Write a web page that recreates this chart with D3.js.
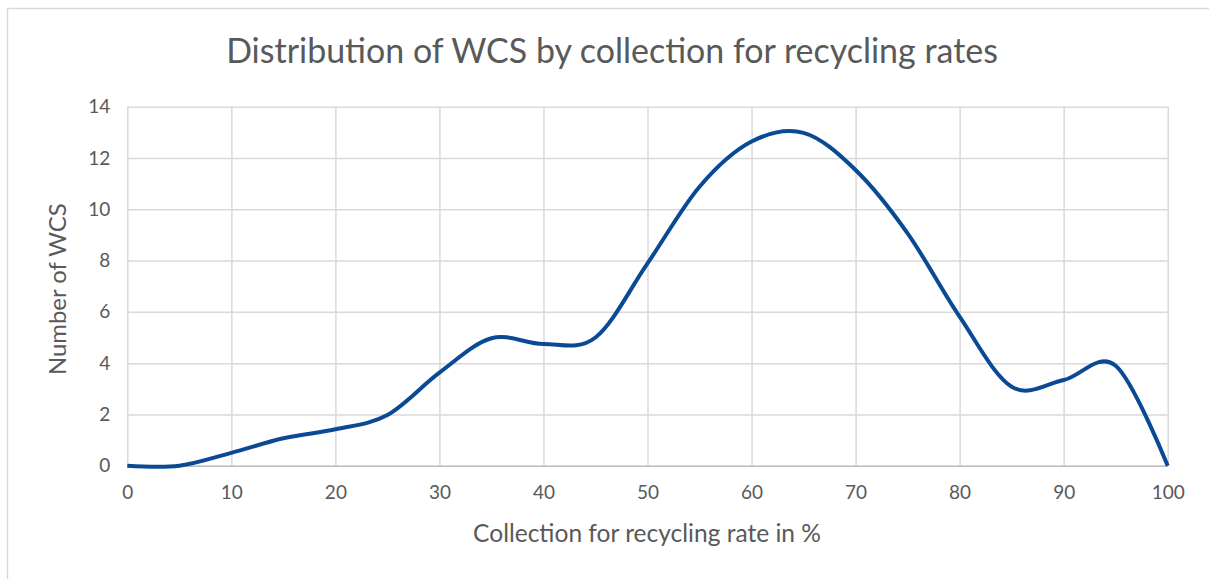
<!DOCTYPE html>
<html>
<head>
<meta charset="utf-8">
<script src="https://cdn.jsdelivr.net/npm/d3@7"></script>
<style>
  html, body { margin: 0; padding: 0; background: #fff; }
  svg { display: block; font-family: Lato, "Open Sans", sans-serif; }
</style>
</head>
<body>
<svg id="chart"></svg>
<script>
// ── DATA ─────────────────────────────────────────────────────────────────
const rates  = [0, 5, 10, 15, 20, 25, 30, 35, 40, 45, 50, 55, 60, 65, 70, 75, 80, 85, 90, 95, 100];
const counts = [0, 0, 0.5, 1.07, 1.42, 1.98, 3.63, 4.97, 4.75, 5.0, 7.89, 10.88, 12.64, 12.98, 11.53, 9.06, 5.81, 3.08, 3.34, 3.9, 0];
const xTicks = [0, 10, 20, 30, 40, 50, 60, 70, 80, 90, 100];
const yTicks = [0, 2, 4, 6, 8, 10, 12, 14];

const TITLE  = "Distribution of WCS by collection for recycling rates";
const XLABEL = "Collection for recycling rate in %";
const YLABEL = "Number of WCS";

// ── DIMENSIONS ───────────────────────────────────────────────────────────
const W = 1209, H = 579;
const plot = { left: 127.3, right: 1167.7, top: 106.7, bottom: 465.7 };
const TEXT = "#595959";

const svg = d3.select("#chart").attr("width", W).attr("height", H);

// chart frame (right and bottom edges fall outside the window)
svg.append("rect")
  .attr("x", 7.5).attr("y", 8.5)
  .attr("width", W + 10).attr("height", H + 10)
  .attr("fill", "#fff")
  .attr("stroke", "#d9d9d9").attr("stroke-width", 1.5);

const x = d3.scaleLinear().domain([0, 100]).range([plot.left, plot.right]);
const y = d3.scaleLinear().domain([0, 14]).range([plot.bottom, plot.top]);

// ── GRID ─────────────────────────────────────────────────────────────────
svg.append("g")
  .attr("transform", `translate(0,${plot.bottom})`)
  .call(d3.axisBottom(x).tickValues(xTicks).tickSize(-(plot.bottom - plot.top)).tickFormat(""))
  .call(ax => ax.select(".domain").remove())
  .call(ax => ax.selectAll(".tick line").attr("stroke", "#d9d9d9").attr("stroke-width", 1.5));

svg.append("g")
  .attr("transform", `translate(${plot.left},0)`)
  .call(d3.axisLeft(y).tickValues(yTicks).tickSize(-(plot.right - plot.left)).tickFormat(""))
  .call(ax => ax.select(".domain").remove())
  .call(ax => ax.selectAll(".tick line").attr("stroke", "#d9d9d9").attr("stroke-width", 1.5));

// ── AXES ─────────────────────────────────────────────────────────────────
svg.append("g")
  .attr("transform", `translate(0,${plot.bottom})`)
  .call(d3.axisBottom(x).tickValues(xTicks).tickSize(0).tickPadding(20))
  .call(ax => ax.select(".domain").attr("stroke", "#bfbfbf").attr("stroke-width", 1.5))
  .call(ax => ax.selectAll(".tick text")
    .style("font-family", "Lato, sans-serif")
    .style("font-size", "19px")
    .attr("fill", TEXT));

svg.append("g")
  .attr("transform", `translate(${plot.left},0)`)
  .call(d3.axisLeft(y).tickValues(yTicks).tickSize(0).tickPadding(17))
  .call(ax => ax.select(".domain").remove())
  .call(ax => ax.selectAll(".tick text")
    .style("font-family", "Lato, sans-serif")
    .style("font-size", "19px")
    .attr("fill", TEXT));

// ── LINE ─────────────────────────────────────────────────────────────────
const pts = rates.map((r, i) => [r, counts[i]]);
svg.append("path")
  .datum(pts)
  .attr("fill", "none")
  .attr("stroke", "#0a4a95")
  .attr("stroke-width", 4)
  .attr("stroke-linejoin", "round")
  .attr("d", d3.line().x(d => x(d[0])).y(d => y(d[1])).curve(d3.curveCardinal.tension(0)));

// ── TITLES ───────────────────────────────────────────────────────────────
function fitText(sel, width) {
  const w = sel.node().getComputedTextLength();
  const fs = parseFloat(sel.style("font-size"));
  sel.style("font-size", (fs * width / w) + "px");
}

const title = svg.append("text")
  .attr("x", 612).attr("y", 63)
  .attr("text-anchor", "middle")
  .attr("fill", TEXT)
  .style("font-size", "28px")
  .text(TITLE);
fitText(title, 772);

const xl = svg.append("text")
  .attr("x", 647).attr("y", 542)
  .attr("text-anchor", "middle")
  .attr("fill", TEXT)
  .style("font-size", "20px")
  .text(XLABEL);
fitText(xl, 348);

const yl = svg.append("text")
  .attr("transform", `translate(66,${(plot.top + plot.bottom) / 2 + 3}) rotate(-90)`)
  .attr("text-anchor", "middle")
  .attr("fill", TEXT)
  .style("font-size", "20px")
  .text(YLABEL);
fitText(yl, 172);
</script>
</body>
</html>
